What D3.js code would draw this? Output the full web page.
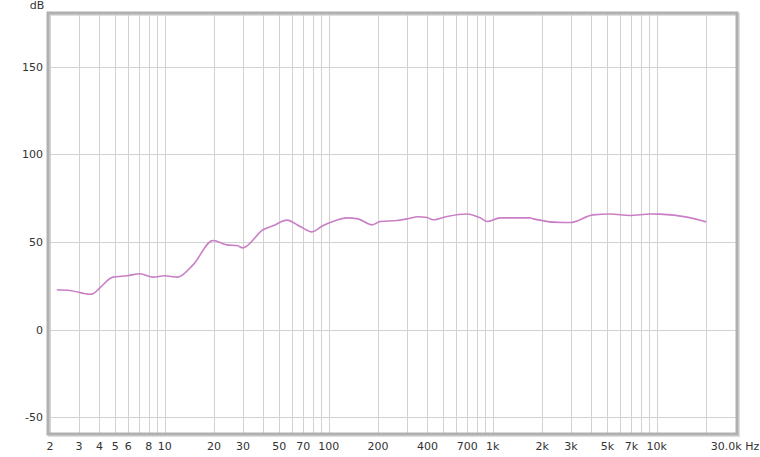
<!DOCTYPE html>
<meta charset="utf-8">
<head>
<title>Frequency response</title>
<style>
body {
    margin: 0;
    background-color: #FFF;
}
text {
    font-family: 'DejaVu Sans';
    font-size: 11px;
    fill: #333;
}
.grid line {
    stroke: #d2d2d2;
    stroke-width: 1px;
}
.curve {
    fill: none;
    stroke: #c97fc6;
    stroke-width: 1.6px;
}
</style>
</head>
<body>
<script src="https://cdn.jsdelivr.net/npm/d3@7"></script>
<script>
    var width = 760,
        height = 457;

    // measured response, Hz / dB
    var freqs = [2.2, 2.65, 3.5, 3.66, 4.04, 4.84, 5.9, 7.08, 8.5, 10, 12, 14.9, 19.7, 24, 27.6, 30,
                 39.8, 45.8, 55.7, 67, 79, 92, 106, 129, 151, 184, 206, 261, 301, 351, 398, 433,
                 527, 698, 838, 924, 1109, 1690, 1760, 2686, 2964, 4094, 5196, 6882, 9120, 10490,
                 15312, 20000];
    var levels = [22.8, 22.4, 20.2, 20.5, 24, 30, 30.8, 31.9, 30, 30.8, 30, 37, 50.9, 48.4, 48, 46.7,
                  57, 59.3, 62.5, 58.9, 55.8, 59.3, 61.7, 63.8, 63.2, 59.8, 61.7, 62.3, 63.2, 64.4, 64, 62.7,
                  64.6, 66, 63.8, 61.7, 63.8, 63.8, 63.2, 61.1, 61.1, 65.5, 66, 65.1, 66, 65.9,
                  64.2, 61.5];

    var gridFreqs = [2, 3, 4, 5, 6, 7, 8, 9, 10, 20, 30, 40, 50, 60, 70, 80, 90, 100,
                     200, 300, 400, 500, 600, 700, 800, 900, 1000,
                     2000, 3000, 4000, 5000, 6000, 7000, 8000, 9000, 10000, 20000];
    var xTicks = [2, 3, 4, 5, 6, 8, 10, 20, 30, 50, 70, 100, 200, 400, 700, 1000, 2000, 3000, 5000, 7000, 10000, 30000];
    var xLabels = ["2", "3", "4", "5", "6", "8", "10", "20", "30", "50", "70", "100", "200", "400", "700",
                   "1k", "2k", "3k", "5k", "7k", "10k", "30.0k Hz"];
    var yTicks = [-50, 0, 50, 100, 150];

    var x = d3.scaleLog().domain([2, 30000]).range([50, 735]);
    var y = d3.scaleLinear().domain([-60, 180]).range([435, 14]);

    var svg = d3.select("body").append("svg")
        .attr("width", width)
        .attr("height", height);

    var pL = 48, pT = 13, pR = 737, pB = 434;

    // soft shadow under the frame
    svg.append("rect")
        .attr("x", pL + 1.5).attr("y", pT + 1.5)
        .attr("width", pR - pL).attr("height", pB - pT)
        .attr("fill", "none").attr("stroke", "#dedede").attr("stroke-width", 3);

    var grid = svg.append("g").attr("class", "grid");
    grid.selectAll(".vx").data(gridFreqs).enter().append("line")
        .attr("x1", function(d) { return Math.round(x(d)) + 0.5; })
        .attr("x2", function(d) { return Math.round(x(d)) + 0.5; })
        .attr("y1", pT).attr("y2", pB);
    grid.selectAll(".hy").data(yTicks).enter().append("line")
        .attr("x1", pL).attr("x2", pR)
        .attr("y1", function(d) { return Math.round(y(d)) + 0.5; })
        .attr("y2", function(d) { return Math.round(y(d)) + 0.5; });

    svg.append("rect")
        .attr("x", pL).attr("y", pT)
        .attr("width", pR - pL).attr("height", pB - pT)
        .attr("fill", "none").attr("stroke", "#b0b0b0").attr("stroke-width", 3);

    var pts = freqs.map(function(f, i) { return [f, levels[i]]; });
    var line = d3.line()
        .x(function(d) { return x(d[0]); })
        .y(function(d) { return y(d[1]); })
        .curve(d3.curveMonotoneX);
    svg.append("path").datum(pts).attr("class", "curve").attr("d", line);

    svg.selectAll(".ylab").data(yTicks).enter().append("text")
        .attr("x", 43)
        .attr("y", function(d) { return y(d) + 4; })
        .attr("text-anchor", "end")
        .text(function(d) { return d; });

    svg.selectAll(".xlab").data(xTicks).enter().append("text")
        .attr("x", function(d) { return x(d); })
        .attr("y", 450)
        .attr("text-anchor", "middle")
        .text(function(d, i) { return xLabels[i]; });

    svg.append("text").attr("x", 37).attr("y", 9).attr("text-anchor", "middle").text("dB");
</script>
</body>
